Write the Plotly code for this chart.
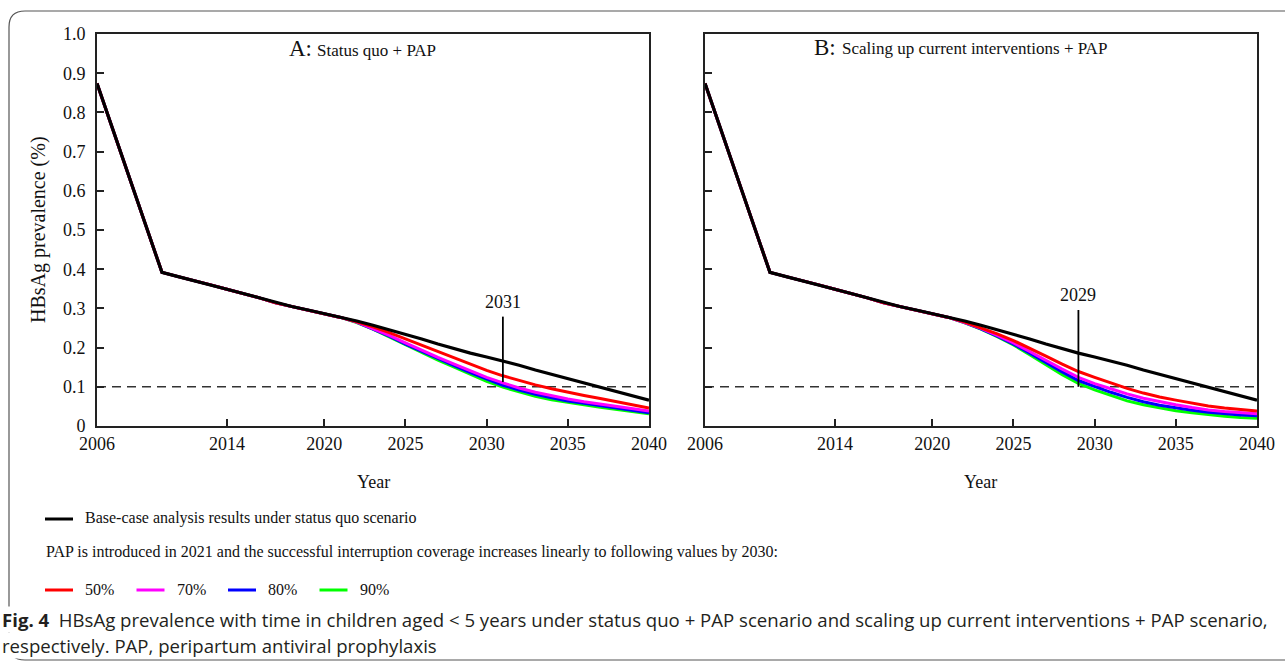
import plotly.graph_objects as go

W, H = 1285, 662

years = list(range(2006, 2041))
# Base-case (status quo) HBsAg prevalence, 2006-2040
base = [0.874, 0.753, 0.633, 0.512, 0.392, 0.381, 0.371, 0.360, 0.349, 0.338,
        0.327, 0.314, 0.305, 0.296, 0.287, 0.277, 0.268, 0.257, 0.246, 0.235,
        0.222, 0.209, 0.197, 0.186, 0.176, 0.166, 0.155, 0.143, 0.132, 0.120,
        0.109, 0.097, 0.087, 0.076, 0.066]
n_shared = 16  # 2006-2021 identical for all scenarios (PAP introduced 2021)

# Scenario values 2022-2040, panel A (status quo + PAP)
a_50 = [0.266, 0.253, 0.238, 0.222, 0.206, 0.190, 0.174, 0.157, 0.142, 0.128,
        0.116, 0.105, 0.095, 0.086, 0.078, 0.070, 0.062, 0.054, 0.046]
a_70 = [0.265, 0.249, 0.231, 0.212, 0.193, 0.175, 0.158, 0.141, 0.124, 0.110,
        0.097, 0.086, 0.077, 0.069, 0.062, 0.056, 0.049, 0.043, 0.038]
a_80 = [0.265, 0.248, 0.229, 0.209, 0.190, 0.171, 0.154, 0.136, 0.119, 0.104,
        0.092, 0.081, 0.072, 0.064, 0.058, 0.052, 0.045, 0.039, 0.034]
a_90 = [0.264, 0.247, 0.227, 0.207, 0.187, 0.168, 0.150, 0.131, 0.114, 0.099,
        0.087, 0.076, 0.067, 0.060, 0.054, 0.048, 0.042, 0.036, 0.031]
# Panel B (scaling up current interventions + PAP)
b_50 = [0.265, 0.251, 0.235, 0.218, 0.199, 0.178, 0.158, 0.139, 0.124, 0.110,
        0.096, 0.084, 0.074, 0.066, 0.058, 0.051, 0.046, 0.042, 0.038]
b_70 = [0.264, 0.249, 0.231, 0.212, 0.190, 0.167, 0.145, 0.124, 0.108, 0.095,
        0.082, 0.071, 0.062, 0.054, 0.047, 0.041, 0.037, 0.034, 0.031]
b_80 = [0.264, 0.248, 0.229, 0.209, 0.186, 0.161, 0.138, 0.116, 0.100, 0.086,
        0.073, 0.062, 0.053, 0.046, 0.040, 0.035, 0.031, 0.028, 0.026]
b_90 = [0.263, 0.247, 0.228, 0.207, 0.182, 0.156, 0.131, 0.109, 0.092, 0.078,
        0.064, 0.054, 0.046, 0.039, 0.034, 0.029, 0.025, 0.022, 0.020]

coverage_labels = ["50%", "70%", "80%", "90%"]
coverage_colors = ["#ff0000", "#ff00ff", "#0000ff", "#00ff00"]
threshold = 0.1
x_ticks = [2006, 2014, 2020, 2025, 2030, 2035, 2040]
y_ticks = [round(i * 0.1, 1) for i in range(11)]
y_ticktext = ["0"] + [f"{v:.1f}" for v in y_ticks[1:]]

# annotated threshold-reaching years
mark_A = dict(year=2031, top=0.279, bottom=0.112, label_y=0.317)
mark_B = dict(year=2029, top=0.296, bottom=0.100, label_y=0.334)

SERIF = "Liberation Serif, Times New Roman, serif"
INK = "#111111"

def px_x(p):
    return p / W

def px_y(p):
    return 1 - p / H

fig = go.Figure()

panels = [
    ("x", "y", [a_50, a_70, a_80, a_90]),
    ("x2", "y2", [b_50, b_70, b_80, b_90]),
]
for xa, ya, tails in panels:
    fig.add_trace(go.Scatter(x=[years[0], years[-1]], y=[threshold, threshold],
                             mode="lines", xaxis=xa, yaxis=ya, showlegend=False,
                             line=dict(color="#333333", width=1.6, dash="9px,6px")))
    # draw 90 -> 50 so red sits on top, then black
    for tail, col in reversed(list(zip(tails, coverage_colors))):
        fig.add_trace(go.Scatter(x=years, y=base[:n_shared] + tail, mode="lines",
                                 xaxis=xa, yaxis=ya, showlegend=False,
                                 line=dict(color=col, width=3)))
    fig.add_trace(go.Scatter(x=years, y=base, mode="lines", xaxis=xa, yaxis=ya,
                             showlegend=False, line=dict(color="#000000", width=3.2)))

dom_y = [px_y(426), px_y(34)]
common_x = dict(range=[2006, 2040], tickvals=x_ticks, ticks="inside", ticklen=7,
                tickwidth=1.5, tickcolor="#222", showline=True, linecolor="#222",
                linewidth=2, mirror=True, showgrid=False, zeroline=False,
                tickfont=dict(family=SERIF, size=18, color=INK))
common_y = dict(range=[0, 1], tickvals=y_ticks, ticktext=y_ticktext, ticks="inside",
                ticklen=7, tickwidth=1.5, tickcolor="#222", showline=True,
                linecolor="#222", linewidth=2, mirror=True, showgrid=False,
                zeroline=False, domain=dom_y,
                tickfont=dict(family=SERIF, size=18, color=INK))

fig.update_layout(
    width=W, height=H, margin=dict(l=0, r=0, t=0, b=0, autoexpand=False),
    paper_bgcolor="white", plot_bgcolor="white", showlegend=False,
    xaxis=dict(common_x, domain=[px_x(97), px_x(649)], anchor="y"),
    yaxis=dict(common_y, anchor="x", ticklabelstandoff=6),
    xaxis2=dict(common_x, domain=[px_x(705), px_x(1257)], anchor="y2"),
    yaxis2=dict(common_y, anchor="x2", showticklabels=False),
)

shapes = []
annos = []

def text_at(x, y, text, font, xanchor="center", **kw):
    annos.append(dict(xref="paper", yref="paper", x=px_x(x), y=px_y(y), text=text,
                      xanchor=xanchor, yanchor="middle", showarrow=False, font=font, **kw))

# threshold-year markers
for m, xa, ya in [(mark_A, "x", "y"), (mark_B, "x2", "y2")]:
    shapes.append(dict(type="line", xref=xa, yref=ya, x0=m["year"], x1=m["year"],
                       y0=m["top"], y1=m["bottom"], line=dict(color="#000", width=1.8)))
    annos.append(dict(xref=xa, yref=ya, x=m["year"], y=m["label_y"], text=str(m["year"]),
                      xanchor="center", yanchor="middle",
                      showarrow=False, font=dict(family=SERIF, size=18, color=INK)))

# panel titles
big = dict(family=SERIF, size=23, color=INK)
small = dict(family=SERIF, size=17, color=INK)
text_at(287, 48, "A:", big, xanchor="left")
text_at(315, 50, "Status quo + PAP", small, xanchor="left")
text_at(812, 47, "B:", big, xanchor="left")
text_at(840, 49, "Scaling up current interventions + PAP", small, xanchor="left")

# axis titles
for cx in [373, 981]:
    text_at(cx, 482, "Year", dict(family=SERIF, size=18, color=INK))
text_at(38, 230, "HBsAg prevalence (%)", dict(family=SERIF, size=20, color=INK), textangle=-90)

# legend
leg_font = dict(family=SERIF, size=16, color=INK)
shapes.append(dict(type="line", xref="paper", yref="paper", x0=px_x(45), x1=px_x(73),
                   y0=px_y(519), y1=px_y(519), line=dict(color="#000", width=3)))
text_at(83, 518, "Base-case analysis results under status quo scenario", leg_font, xanchor="left")
text_at(44, 552, "PAP is introduced in 2021 and the successful interruption coverage increases linearly to following values by 2030:",
        leg_font, xanchor="left")
for i, (lab, col) in enumerate(zip(coverage_labels, coverage_colors)):
    x0 = 45 + i * 91.5
    shapes.append(dict(type="line", xref="paper", yref="paper", x0=px_x(x0), x1=px_x(x0 + 28),
                       y0=px_y(590), y1=px_y(590), line=dict(color=col, width=3)))
    text_at(x0 + 38, 589, lab, leg_font, xanchor="left")

# outer rounded frame
r = 16
path = (f"M {px_x(1300)},{px_y(11)} L {px_x(9 + r)},{px_y(11)} "
        f"Q {px_x(9)},{px_y(11)} {px_x(9)},{px_y(11 + r)} "
        f"L {px_x(9)},{px_y(660 - r)} Q {px_x(9)},{px_y(660)} {px_x(9 + r)},{px_y(660)} "
        f"L {px_x(1300)},{px_y(660)}")
shapes.insert(0, dict(type="path", xref="paper", yref="paper", path=path,
                      line=dict(color="#555", width=1.2), layer="below"))

# caption
cap_font = dict(family="Open Sans, Noto Sans, sans-serif", size=18.6, color="#231f20")
text_at(1, 619, "<b>Fig. 4</b>  HBsAg prevalence with time in children aged < 5 years under status quo + PAP scenario and scaling up current interventions + PAP scenario,",
        cap_font, xanchor="left", bgcolor="white", borderpad=0)
text_at(1, 645, "respectively. PAP, peripartum antiviral prophylaxis",
        cap_font, xanchor="left", bgcolor="white", borderpad=0)

fig.update_layout(shapes=shapes, annotations=annos)
fig.write_html("out.html", config={"displayModeBar": False},
               post_script="document.body.style.margin='0';document.body.style.overflow='hidden';")
